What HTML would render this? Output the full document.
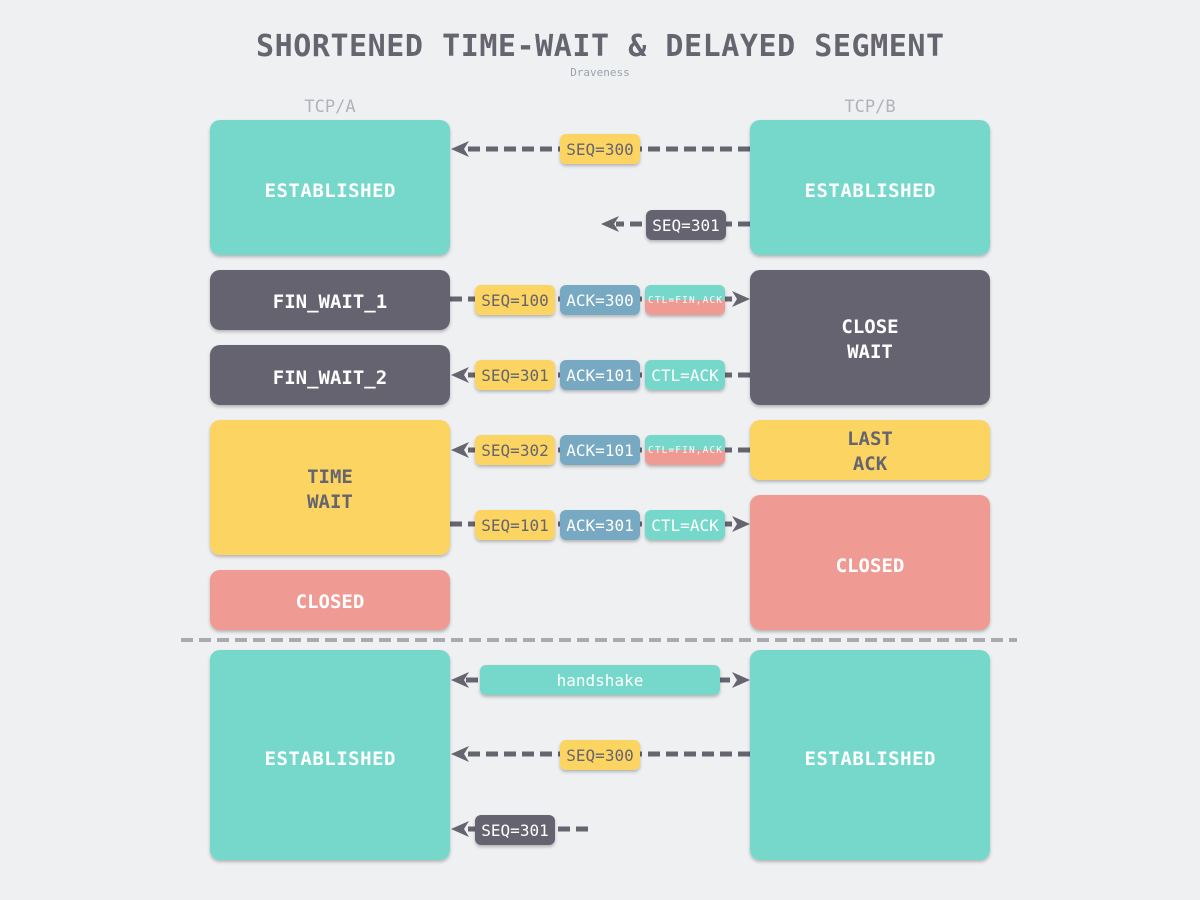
<!DOCTYPE html>
<html><head><meta charset="utf-8"><style>
html,body{margin:0;padding:0;background:#eff0f2;}
svg{display:block;}
text{font-family:"DejaVu Sans Mono","Liberation Mono",monospace;}
</style></head><body>
<svg width="1200" height="900" viewBox="0 0 1200 900" xmlns="http://www.w3.org/2000/svg">
<defs>
<filter id="sh" x="-10%" y="-10%" width="120%" height="130%"><feDropShadow dx="0" dy="2" stdDeviation="1.5" flood-color="#000" flood-opacity="0.25"/></filter>
<path id="al" d="M0,0 L18,-8 L13,0 L18,8 Z" fill="#66646f"/>
<path id="ar" d="M0,0 L-18,-8 L-13,0 L-18,8 Z" fill="#66646f"/>
<clipPath id="c1"><rect x="645" y="285" width="80" height="30" rx="6"/></clipPath>
<clipPath id="c2"><rect x="645" y="435" width="80" height="30" rx="6"/></clipPath>
</defs>
<rect width="1200" height="900" fill="#eff0f2"/>
<text x="600" y="56" text-anchor="middle" font-size="30" font-weight="bold" fill="#66646f" textLength="688">SHORTENED TIME-WAIT &amp; DELAYED SEGMENT</text>
<text x="600" y="76" text-anchor="middle" font-size="11" fill="#9aa3ab">Draveness</text>
<text x="330" y="112" text-anchor="middle" font-size="17" fill="#b0b3ba">TCP/A</text>
<text x="870" y="112" text-anchor="middle" font-size="17" fill="#b0b3ba">TCP/B</text>

<g stroke="#66646f" stroke-width="5" stroke-dasharray="12,6" fill="none">
<line x1="750" y1="149" x2="466" y2="149"/>
<line x1="750" y1="224" x2="616" y2="224"/>
<line x1="450" y1="299" x2="735" y2="299"/>
<line x1="750" y1="375" x2="466" y2="375"/>
<line x1="750" y1="450" x2="466" y2="450"/>
<line x1="450" y1="524" x2="735" y2="524"/>
<line x1="466" y1="680" x2="735" y2="680"/>
<line x1="750" y1="754" x2="466" y2="754"/>
<line x1="588" y1="829" x2="466" y2="829"/>
</g>
<use href="#al" x="451" y="149"/>
<use href="#al" x="601" y="224"/>
<use href="#ar" x="750" y="299"/>
<use href="#al" x="451" y="375"/>
<use href="#al" x="451" y="450"/>
<use href="#ar" x="750" y="524"/>
<use href="#al" x="451" y="680"/>
<use href="#ar" x="750" y="680"/>
<use href="#al" x="451" y="754"/>
<use href="#al" x="451" y="829"/>
<line x1="181" y1="640" x2="1017" y2="640" stroke="#aaabb0" stroke-width="4" stroke-dasharray="12,6"/>

<g filter="url(#sh)">
<rect x="210" y="120" width="240" height="135" rx="10" fill="#76d7cb"/>
<rect x="750" y="120" width="240" height="135" rx="10" fill="#76d7cb"/>
<rect x="210" y="270" width="240" height="60" rx="10" fill="#66646f"/>
<rect x="210" y="345" width="240" height="60" rx="10" fill="#66646f"/>
<rect x="750" y="270" width="240" height="135" rx="10" fill="#66646f"/>
<rect x="210" y="420" width="240" height="135" rx="10" fill="#fcd462"/>
<rect x="750" y="420" width="240" height="60" rx="10" fill="#fcd462"/>
<rect x="210" y="570" width="240" height="60" rx="10" fill="#ef9a93"/>
<rect x="750" y="495" width="240" height="135" rx="10" fill="#ef9a93"/>
<rect x="210" y="650" width="240" height="210" rx="10" fill="#76d7cb"/>
<rect x="750" y="650" width="240" height="210" rx="10" fill="#76d7cb"/>
</g>
<g font-size="19" font-weight="bold" text-anchor="middle">
<text x="330" y="197" fill="#fff" textLength="131">ESTABLISHED</text>
<text x="870" y="197" fill="#fff" textLength="131">ESTABLISHED</text>
<text x="330" y="308" fill="#fff">FIN_WAIT_1</text>
<text x="330" y="384" fill="#fff">FIN_WAIT_2</text>
<text x="870" y="333" fill="#fff">CLOSE</text>
<text x="870" y="358" fill="#fff">WAIT</text>
<text x="330" y="483" fill="#66646f">TIME</text>
<text x="330" y="508" fill="#66646f">WAIT</text>
<text x="870" y="445" fill="#66646f">LAST</text>
<text x="870" y="470" fill="#66646f">ACK</text>
<text x="330" y="608" fill="#fff">CLOSED</text>
<text x="870" y="572" fill="#fff">CLOSED</text>
<text x="330" y="765" fill="#fff" textLength="131">ESTABLISHED</text>
<text x="870" y="765" fill="#fff" textLength="131">ESTABLISHED</text>
</g>

<g filter="url(#sh)">
<rect x="560" y="134" width="80" height="30" rx="6" fill="#fcd462"/>
<rect x="646" y="210" width="80" height="30" rx="6" fill="#66646f"/>
<rect x="475" y="285" width="80" height="30" rx="6" fill="#fcd462"/>
<rect x="560" y="285" width="80" height="30" rx="6" fill="#78a9c2"/>
<rect x="645" y="285" width="80" height="30" rx="6" fill="#ef9a93"/>
<rect x="475" y="360" width="80" height="30" rx="6" fill="#fcd462"/>
<rect x="560" y="360" width="80" height="30" rx="6" fill="#78a9c2"/>
<rect x="645" y="360" width="80" height="30" rx="6" fill="#76d7cb"/>
<rect x="475" y="435" width="80" height="30" rx="6" fill="#fcd462"/>
<rect x="560" y="435" width="80" height="30" rx="6" fill="#78a9c2"/>
<rect x="645" y="435" width="80" height="30" rx="6" fill="#ef9a93"/>
<rect x="475" y="510" width="80" height="30" rx="6" fill="#fcd462"/>
<rect x="560" y="510" width="80" height="30" rx="6" fill="#78a9c2"/>
<rect x="645" y="510" width="80" height="30" rx="6" fill="#76d7cb"/>
<rect x="480" y="665" width="240" height="30" rx="6" fill="#76d7cb"/>
<rect x="560" y="740" width="80" height="30" rx="6" fill="#fcd462"/>
<rect x="475" y="815" width="80" height="30" rx="6" fill="#66646f"/>
</g>
<rect x="645" y="285" width="80" height="15" fill="#76d7cb" clip-path="url(#c1)"/>
<rect x="645" y="435" width="80" height="15" fill="#76d7cb" clip-path="url(#c2)"/>

<g font-size="16" text-anchor="middle">
<text x="600" y="155" fill="#66646f">SEQ=300</text>
<text x="686" y="231" fill="#fff">SEQ=301</text>
<text x="515" y="306" fill="#66646f">SEQ=100</text>
<text x="600" y="306" fill="#fff">ACK=300</text>
<text x="515" y="381" fill="#66646f">SEQ=301</text>
<text x="600" y="381" fill="#fff">ACK=101</text>
<text x="685" y="381" fill="#fff">CTL=ACK</text>
<text x="515" y="456" fill="#66646f">SEQ=302</text>
<text x="600" y="456" fill="#fff">ACK=101</text>
<text x="515" y="531" fill="#66646f">SEQ=101</text>
<text x="600" y="531" fill="#fff">ACK=301</text>
<text x="685" y="531" fill="#fff">CTL=ACK</text>
<text x="600" y="686" fill="#fff">handshake</text>
<text x="600" y="761" fill="#66646f">SEQ=300</text>
<text x="515" y="836" fill="#fff">SEQ=301</text>
</g>
<g font-size="9.5" text-anchor="middle" fill="#fff">
<text x="685" y="303" textLength="74">CTL=FIN,ACK</text>
<text x="685" y="453" textLength="74">CTL=FIN,ACK</text>
</g>
</svg>
</body></html>
